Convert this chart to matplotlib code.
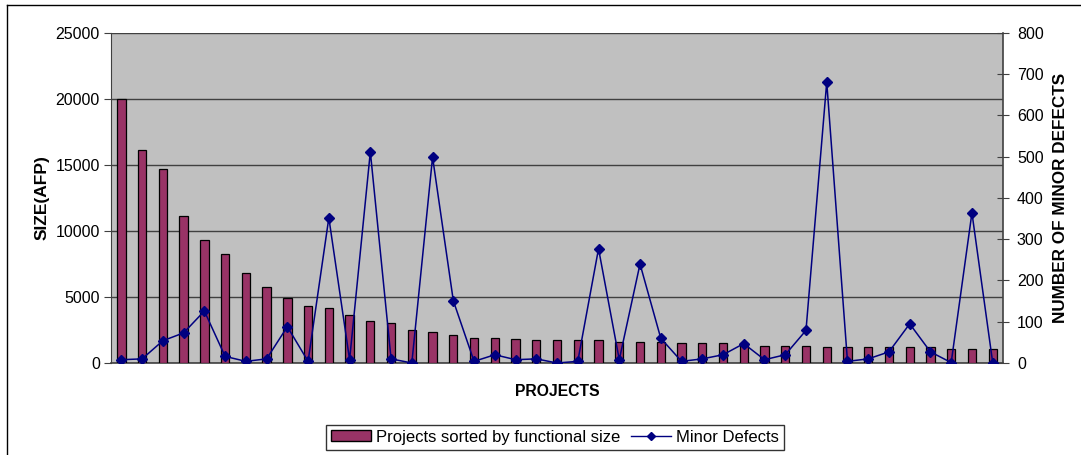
import matplotlib.pyplot as plt
import numpy as np
from matplotlib.lines import Line2D

plt.rcParams["font.family"] = ["Liberation Sans", "DejaVu Sans"]

# Functional size (AFP) of each project, largest first
size_afp = [
    20000, 16100, 14700, 11100, 9300, 8250, 6780, 5720, 4920, 4330,
    4130, 3650, 3150, 3050, 2470, 2370, 2090, 1890, 1890, 1820,
    1710, 1710, 1710, 1710, 1610, 1610, 1610, 1510, 1510, 1510,
    1510, 1290, 1290, 1290, 1180, 1180, 1180, 1180, 1180, 1180,
    1080, 1080, 1080,
]

# Minor defects found in the same projects
minor_defects = [
    8, 10, 54, 73, 126, 16, 4, 10, 88, 4,
    352, 8, 512, 10, 0, 499, 151, 4, 20, 8,
    10, 0, 4, 277, 8, 240, 60, 4, 10, 20,
    47, 8, 20, 79, 681, 4, 10, 27, 95, 27,
    1, 364, 1,
]

size_ticks = [0, 5000, 10000, 15000, 20000, 25000]
defect_ticks = [0, 100, 200, 300, 400, 500, 600, 700, 800]

x = np.arange(len(size_afp))

fig = plt.figure(figsize=(10.81, 4.55), dpi=100)
ax = fig.add_axes([0.1027, 0.2022, 0.8252, 0.7253])
ax.set_facecolor("#c0c0c0")

ax.bar(x, size_afp, width=0.4, color="#993366", edgecolor="black",
       linewidth=0.9, zorder=3)
ax.set_xlim(-0.5, len(size_afp) - 0.5)
ax.set_ylim(0, 25000)
ax.set_yticks(size_ticks)
ax.set_yticklabels([str(t) for t in size_ticks], fontsize=11.5)
ax.set_xticks([])
ax.grid(axis="y", color="#404040", linewidth=1, zorder=1)
ax.tick_params(axis="y", direction="out", length=5, color="#404040", pad=3)
for side in ["top", "right"]:
    ax.spines[side].set_visible(False)
ax.spines["left"].set_color("#404040")
ax.spines["bottom"].set_color("#404040")
ax.spines["bottom"].set_linewidth(1.2)
ax.set_ylabel("SIZE(AFP)", fontsize=12.5, fontweight="bold", labelpad=4)
ax.set_xlabel("PROJECTS", fontsize=11.3, fontweight="bold", labelpad=15)

ax2 = ax.twinx()
ax2.plot(x, minor_defects, color="#000080", linewidth=1.1, marker="D",
         markersize=5, zorder=4)
ax2.set_ylim(0, 800)
ax2.set_yticks(defect_ticks)
ax2.set_yticklabels([str(t) for t in defect_ticks], fontsize=11.5)
ax2.tick_params(axis="y", direction="inout", length=8, color="#404040", pad=6)
for side in ["top", "left", "bottom"]:
    ax2.spines[side].set_visible(False)
ax2.spines["right"].set_color("#404040")
ax2.spines["right"].set_linewidth(1.2)
ax2.set_ylabel("NUMBER OF MINOR DEFECTS", fontsize=12.3, fontweight="bold",
               labelpad=7)

# Legend below the plot
handles = [
    plt.Rectangle((0, 0), 1, 1, facecolor="#993366", edgecolor="black"),
    Line2D([], [], color="#000080", marker="D", markersize=4.5, linewidth=1),
]
fig.legend(handles, ["Projects sorted by functional size", "Minor Defects"],
           loc="center", bbox_to_anchor=(0.5134, 0.0395), ncol=2,
           fontsize=12, frameon=True, fancybox=False, edgecolor="black",
           handlelength=2.4, handleheight=0.6, handletextpad=0.3,
           columnspacing=0.6, borderpad=0.3)

# Chart area border
fig.add_artist(Line2D([0.0065, 0.0065], [0, 0.989], color="black",
                      linewidth=1, transform=fig.transFigure))
fig.add_artist(Line2D([0.0065, 1], [0.989, 0.989], color="black",
                      linewidth=1, transform=fig.transFigure))

fig.savefig("out.png", dpi=100)
